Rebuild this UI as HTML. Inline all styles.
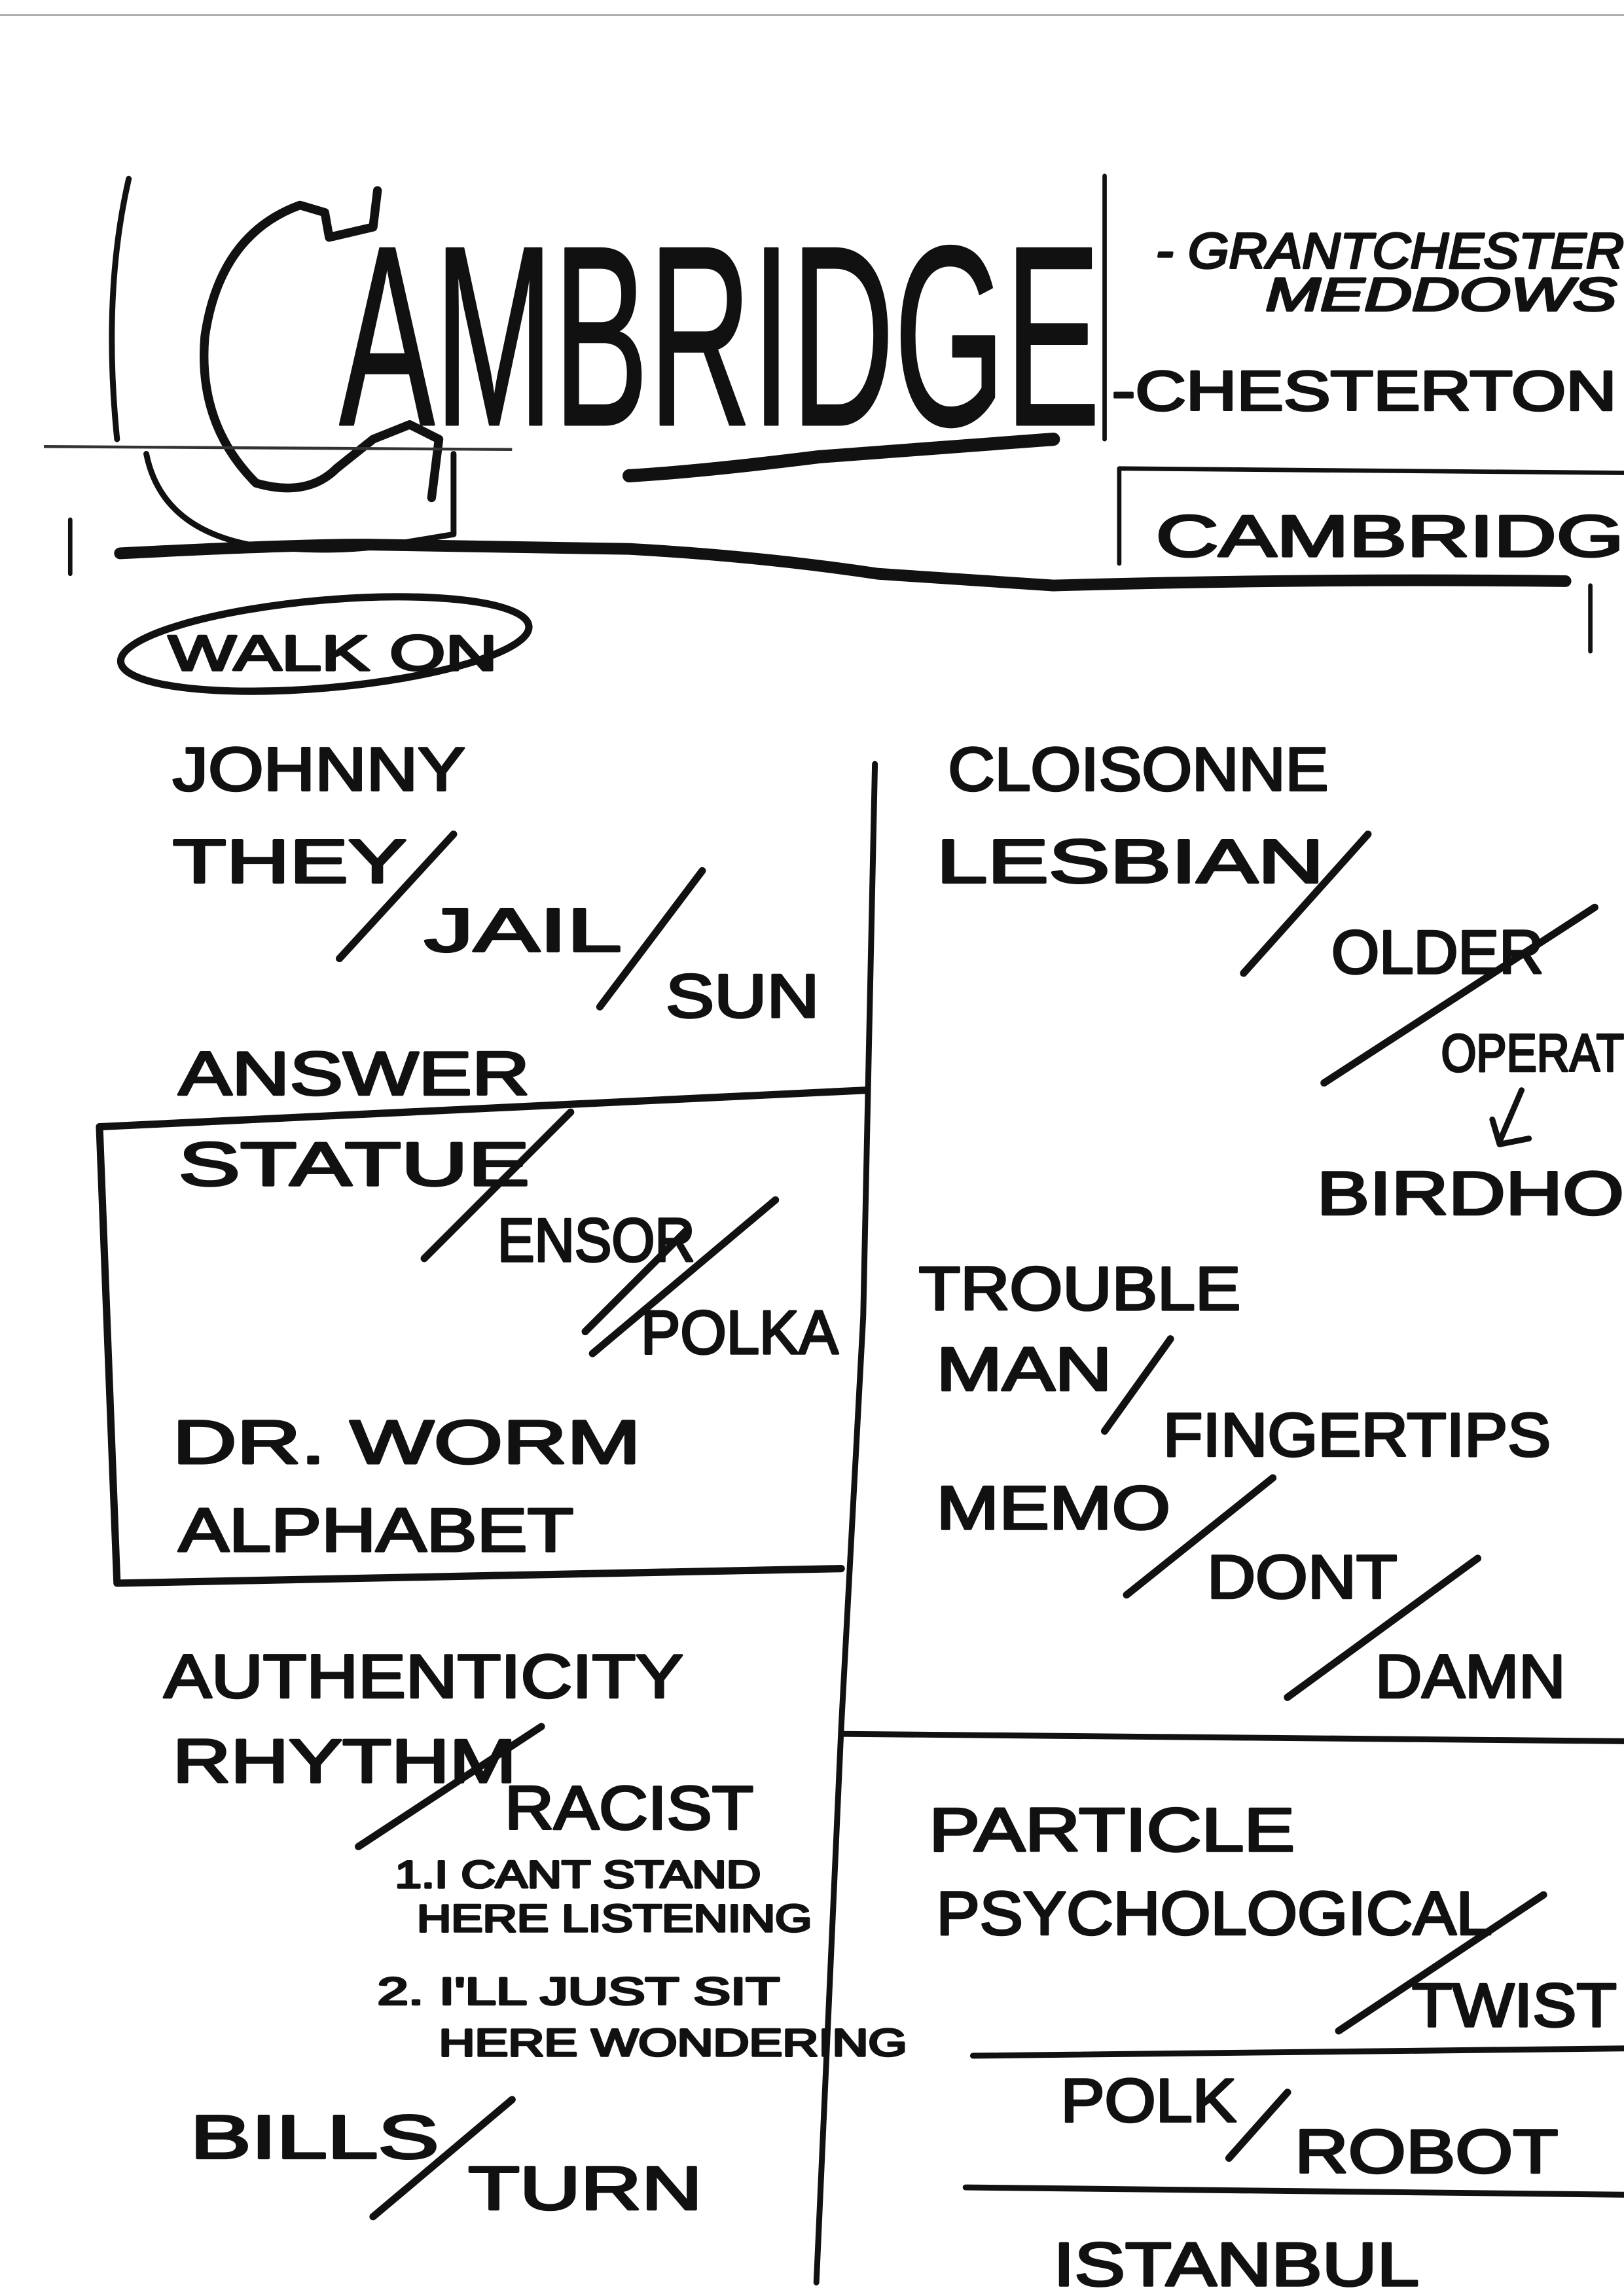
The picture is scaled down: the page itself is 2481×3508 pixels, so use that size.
<!DOCTYPE html>
<html><head><meta charset="utf-8"><style>
html,body{margin:0;padding:0;background:#fff}
svg{display:block}
text{font-family:"Liberation Sans",sans-serif;fill:#111;stroke:#111;stroke-width:1.6;stroke-linejoin:round}
.l{fill:none;stroke:#111;stroke-linecap:round;stroke-linejoin:round}
</style></head><body>
<svg width="2481" height="3508" viewBox="0 0 1110 1569" xmlns="http://www.w3.org/2000/svg">
<rect width="1110" height="1569" fill="#fff"/>
<line x1="0" y1="10" x2="1110" y2="10" stroke="#999" stroke-width="1"/>
<!-- big title -->
<path class="l" stroke-width="4" d="M88 122 Q70 200 80 300"/>
<path class="l" stroke-width="6" d="M258 130 L255 155 L225 162 L222 145 L205 140 Q150 160 140 230 Q135 290 175 330 Q210 340 230 320 L255 300 L280 290 L300 300 L295 340"/>
<path class="l" stroke-width="4" d="M100 310 Q110 360 170 372 Q230 380 280 370 L310 365 L310 310"/>
<text x="232" y="290" font-size="175" textLength="520" lengthAdjust="spacingAndGlyphs" stroke-width="3" fill="none">AMBRIDGE</text>
<path class="l" stroke-width="3" d="M755 120 L755 300"/>
<text x="790" y="183" font-size="34" textLength="320" lengthAdjust="spacingAndGlyphs" font-style="italic">- GRANTCHESTER</text>
<text x="865" y="212" font-size="32" textLength="240" lengthAdjust="spacingAndGlyphs" font-style="italic">MEDDOWS</text>
<text x="760" y="280" font-size="38" textLength="345" lengthAdjust="spacingAndGlyphs">-CHESTERTON</text>
<!-- lines -->
<line x1="30" y1="305" x2="350" y2="307" stroke="#333" stroke-width="2"/>
<path class="l" stroke-width="9" d="M430 325 Q480 322 560 312 L720 300"/>
<path class="l" stroke-width="8" d="M82 378 Q200 372 250 372 L430 375 Q520 380 600 392 L720 400 Q900 395 1070 397"/>
<path class="l" stroke-width="3" d="M765 320 L1110 323 M765 320 L765 385 M48 355 L48 392 M1087 400 L1087 445"/>
<text x="790" y="380" font-size="40" textLength="320" lengthAdjust="spacingAndGlyphs">CAMBRIDG</text>
<!-- walk on -->
<ellipse cx="222" cy="440" rx="140" ry="30" class="l" stroke-width="5" transform="rotate(-5 222 440)"/>
<text x="115" y="458" font-size="34" textLength="225" lengthAdjust="spacingAndGlyphs">WALK ON</text>
<!-- left column -->
<g font-size="42">
<text x="118" y="540" textLength="200" lengthAdjust="spacingAndGlyphs">JOHNNY</text>
<text x="118" y="603" textLength="160" lengthAdjust="spacingAndGlyphs">THEY</text>
<text x="290" y="650" textLength="135" lengthAdjust="spacingAndGlyphs">JAIL</text>
<text x="455" y="695" textLength="105" lengthAdjust="spacingAndGlyphs">SUN</text>
<text x="122" y="748" textLength="240" lengthAdjust="spacingAndGlyphs">ANSWER</text>
<text x="122" y="810" textLength="240" lengthAdjust="spacingAndGlyphs">STATUE</text>
<text x="340" y="862" textLength="135" lengthAdjust="spacingAndGlyphs">ENSOR</text>
<text x="438" y="925" textLength="135" lengthAdjust="spacingAndGlyphs">POLKA</text>
<text x="118" y="1000" textLength="320" lengthAdjust="spacingAndGlyphs">DR. WORM</text>
<text x="122" y="1060" textLength="270" lengthAdjust="spacingAndGlyphs">ALPHABET</text>
<text x="112" y="1160" textLength="355" lengthAdjust="spacingAndGlyphs">AUTHENTICITY</text>
<text x="118" y="1218" textLength="235" lengthAdjust="spacingAndGlyphs">RHYTHM</text>
<text x="345" y="1250" textLength="170" lengthAdjust="spacingAndGlyphs">RACIST</text>
<text x="130" y="1475" textLength="170" lengthAdjust="spacingAndGlyphs">BILLS</text>
<text x="320" y="1510" textLength="160" lengthAdjust="spacingAndGlyphs">TURN</text>
</g>
<g font-size="26">
<text x="270" y="1290" textLength="250" lengthAdjust="spacingAndGlyphs">1.I CANT STAND</text>
<text x="285" y="1320" textLength="270" lengthAdjust="spacingAndGlyphs">HERE LISTENING</text>
<text x="258" y="1370" textLength="275" lengthAdjust="spacingAndGlyphs">2. I'LL JUST SIT</text>
<text x="300" y="1405" textLength="320" lengthAdjust="spacingAndGlyphs">HERE WONDERING</text>
</g>
<!-- box -->
<path class="l" stroke-width="5" d="M68 770 L592 745 M68 770 L80 1082 L575 1072"/>
<!-- vertical divider -->
<path class="l" stroke-width="4" d="M598 522 L590 900 L575 1180 L558 1560"/>
<!-- right column -->
<g font-size="42">
<text x="648" y="540" textLength="260" lengthAdjust="spacingAndGlyphs">CLOISONNE</text>
<text x="640" y="603" textLength="265" lengthAdjust="spacingAndGlyphs">LESBIAN</text>
<text x="910" y="665" textLength="145" lengthAdjust="spacingAndGlyphs">OLDER</text>
<text x="985" y="732" font-size="36" textLength="125" lengthAdjust="spacingAndGlyphs">OPERAT</text>
<text x="900" y="830" textLength="210" lengthAdjust="spacingAndGlyphs">BIRDHO</text>
<text x="628" y="895" textLength="220" lengthAdjust="spacingAndGlyphs">TROUBLE</text>
<text x="640" y="950" textLength="120" lengthAdjust="spacingAndGlyphs">MAN</text>
<text x="795" y="995" textLength="265" lengthAdjust="spacingAndGlyphs">FINGERTIPS</text>
<text x="640" y="1045" textLength="160" lengthAdjust="spacingAndGlyphs">MEMO</text>
<text x="825" y="1092" textLength="130" lengthAdjust="spacingAndGlyphs">DONT</text>
<text x="940" y="1160" textLength="130" lengthAdjust="spacingAndGlyphs">DAMN</text>
<text x="635" y="1265" textLength="250" lengthAdjust="spacingAndGlyphs">PARTICLE</text>
<text x="640" y="1322" textLength="380" lengthAdjust="spacingAndGlyphs">PSYCHOLOGICAL</text>
<text x="965" y="1385" textLength="140" lengthAdjust="spacingAndGlyphs">TWIST</text>
<text x="725" y="1450" textLength="120" lengthAdjust="spacingAndGlyphs">POLK</text>
<text x="885" y="1485" textLength="180" lengthAdjust="spacingAndGlyphs">ROBOT</text>
<text x="720" y="1562" textLength="250" lengthAdjust="spacingAndGlyphs">ISTANBUL</text>
</g>
<path class="l" stroke-width="4" d="M1040 745 L1025 780 M1020 765 L1025 782 L1045 778"/>
<path class="l" stroke-width="4" d="M575 1185 L1110 1190 M665 1405 L1110 1400 M660 1495 L1110 1500"/>
<!-- slashes -->
<g class="l" stroke-width="5">
<path d="M232 655 L310 570"/><path d="M410 688 L480 595"/><path d="M290 860 L390 760"/>
<path d="M400 910 L470 840"/><path d="M405 925 L530 820"/><path d="M850 665 L935 570"/>
<path d="M905 740 L1090 620"/><path d="M755 978 L800 915"/><path d="M770 1090 L870 1010"/>
<path d="M880 1160 L1010 1065"/><path d="M245 1262 L370 1180"/><path d="M255 1515 L350 1435"/>
<path d="M915 1388 L1055 1295"/><path d="M840 1475 L880 1430"/>
</g>
</svg>
</body></html>
